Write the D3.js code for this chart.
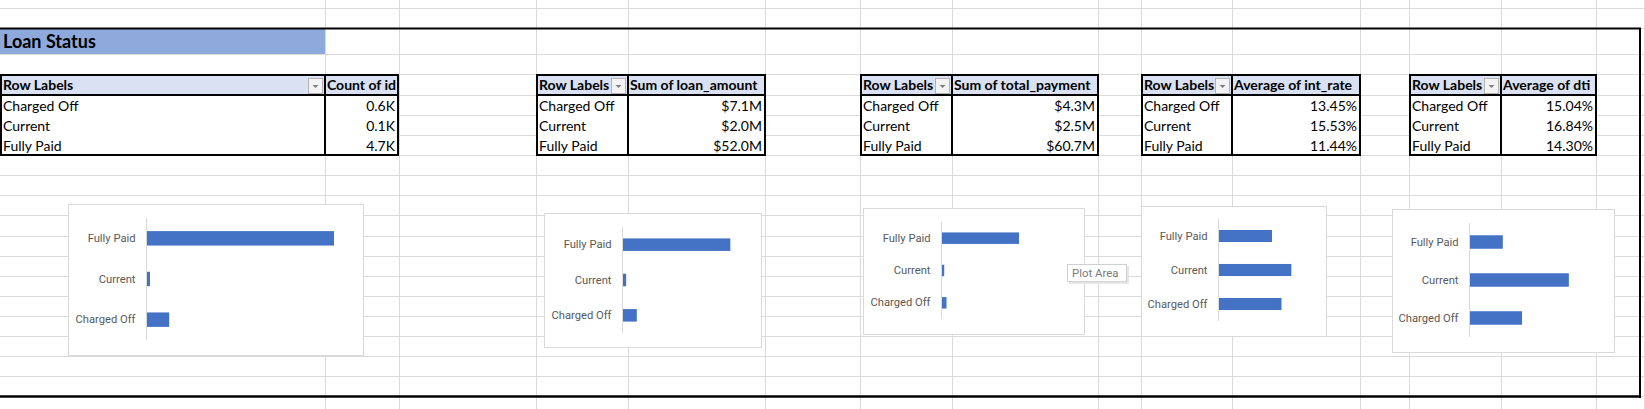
<!DOCTYPE html>
<html><head><meta charset="utf-8">
<script src="https://cdn.jsdelivr.net/npm/d3@7"></script>
<style>html,body{margin:0;padding:0;background:#fff;overflow:hidden}</style>
</head><body><svg id="c" width="1645" height="409"></svg>
<script>
// ---------- data ----------
const categories = ["Charged Off", "Current", "Fully Paid"];
const countOfId = [580, 100, 4700];
const sumLoanAmount = [7.1, 2.0, 52.0];      // $ millions
const sumTotalPayment = [4.3, 2.5, 60.7];    // $ millions
const avgIntRate = [13.45, 15.53, 11.44];    // %
const avgDti = [15.04, 16.84, 14.30];        // %
const valueHeaders = ["Count of id", "Sum of loan_amount", "Sum of total_payment", "Average of int_rate", "Average of dti"];
const rowLabelHeader = "Row Labels";
const sheetTitle = "Loan Status";
const tooltipText = "Plot Area";

// ---------- formats ----------
const fmtK = v => (v / 1000).toFixed(1) + "K";
const fmtM = v => "$" + v.toFixed(1) + "M";
const fmtP = v => v.toFixed(2) + "%";

const series = [
  {values: countOfId, fmt: fmtK, domain: [0, 5000]},
  {values: sumLoanAmount, fmt: fmtM, domain: [0, 60]},
  {values: sumTotalPayment, fmt: fmtM, domain: [0, 70]},
  {values: avgIntRate, fmt: fmtP, domain: [0, 18]},
  {values: avgDti, fmt: fmtP, domain: [13, 17.5]}
];

// ---------- layout ----------
const W = 1645, H = 409;
const colLines = [325, 399, 536, 628, 765, 860, 952, 1098, 1141, 1232, 1360, 1409, 1501, 1596, 1644];
const rowLines = [8, 28, 54, 74, 95, 115, 135, 155, 175, 195, 215, 236, 256, 276, 296, 316, 336, 356, 376, 396];
const tables = [
  {x0: 0, xm: 325, x1: 398},
  {x0: 536, xm: 628, x1: 765},
  {x0: 860, xm: 952, x1: 1098},
  {x0: 1141, xm: 1232, x1: 1360},
  {x0: 1409, xm: 1501, x1: 1596}
];
const tTop = 74, tHead = 95, tRow = 20;
const charts = [
  {box: [68, 204, 363, 355], ax: 146, pr: 346, pt: 218, pb: 340},
  {box: [544, 213, 761, 347], ax: 622, pr: 747, pt: 227, pb: 333},
  {box: [863, 208, 1084, 334], ax: 941, pr: 1031, pt: 222, pb: 319},
  {box: [1141, 206, 1326, 336], ax: 1218, pr: 1303, pt: 219, pb: 321},
  {box: [1392, 209, 1614, 352], ax: 1469, pr: 1586, pt: 223, pb: 337}
];

const svg = d3.select("#c");
svg.append("rect").attr("width", W).attr("height", H).attr("fill", "#fff");

// grid
const grid = svg.append("g").attr("stroke", "#dadada").attr("stroke-width", 1).attr("shape-rendering", "crispEdges");
grid.selectAll("line.v").data(colLines).join("line").attr("class", "v")
  .attr("x1", d => d + 0.5).attr("x2", d => d + 0.5).attr("y1", 0).attr("y2", H);
grid.selectAll("line.h").data(rowLines).join("line").attr("class", "h")
  .attr("x1", 0).attr("x2", W).attr("y1", d => d + 0.5).attr("y2", d => d + 0.5);

// title cell
svg.append("rect").attr("x", 0).attr("y", 28).attr("width", 325).attr("height", 26).attr("fill", "#8ea9db");
svg.append("text").attr("x", 3).attr("y", 48).text(sheetTitle)
  .attr("font-family", "Lato, sans-serif").attr("font-weight", "bold").attr("font-size", 18).attr("fill", "#000");

const cellFont = "Lato, 'Open Sans', sans-serif";
const cellSize = 14;

// pivot tables
tables.forEach((t, i) => {
  const g = svg.append("g");
  const s = series[i];
  const tBottom = tHead + tRow * categories.length;
  g.append("rect").attr("x", t.x0).attr("y", tTop).attr("width", t.x1 - t.x0).attr("height", tBottom - tTop).attr("fill", "#fff");
  g.append("rect").attr("x", t.x0).attr("y", tTop).attr("width", t.x1 - t.x0).attr("height", tHead - tTop).attr("fill", "#d9e1f2");
  // header texts
  g.append("text").attr("x", t.x0 + 3).attr("y", tHead - 5).text(rowLabelHeader)
    .attr("font-family", cellFont).attr("font-weight", "bold").attr("font-size", cellSize);
  g.append("text").attr("x", t.xm + 2).attr("y", tHead - 5).text(valueHeaders[i])
    .attr("font-family", cellFont).attr("font-weight", "bold").attr("font-size", cellSize);
  // dropdown button
  const bx = t.xm - 17, by = tTop + 4;
  g.append("rect").attr("x", bx + 0.5).attr("y", by + 0.5).attr("width", 14).attr("height", 15)
    .attr("fill", "#f3f3f3").attr("stroke", "#b4b4b4");
  g.append("path").attr("d", `M${bx + 4.5},${by + 7} L${bx + 10.5},${by + 7} L${bx + 7.5},${by + 10} Z`).attr("fill", "#7f7f7f");
  // rows
  categories.forEach((c, j) => {
    const yb = tHead + tRow * (j + 1) - 4;
    g.append("text").attr("x", t.x0 + 3).attr("y", yb).text(c)
      .attr("font-family", cellFont).attr("font-size", cellSize);
    g.append("text").attr("x", t.x1 - 3).attr("y", yb).attr("text-anchor", "end").text(s.fmt(s.values[j]))
      .attr("font-family", cellFont).attr("font-size", cellSize);
  });
  // borders
  const b = g.append("g").attr("stroke", "#000").attr("stroke-width", 2).attr("fill", "none");
  b.append("rect").attr("x", t.x0 + 1).attr("y", tTop + 1).attr("width", t.x1 - t.x0 - 1).attr("height", tBottom - tTop - 1);
  b.append("line").attr("x1", t.x0).attr("x2", t.x1).attr("y1", tHead).attr("y2", tHead);
  b.append("line").attr("x1", t.xm).attr("x2", t.xm).attr("y1", tTop).attr("y2", tBottom);
});

// bar charts
const order = categories.slice().reverse(); // Excel draws first category at the bottom
charts.forEach((c, i) => {
  const s = series[i];
  const g = svg.append("g");
  const [bx0, by0, bx1, by1] = c.box;
  g.append("rect").attr("x", bx0 + 0.5).attr("y", by0 + 0.5).attr("width", bx1 - bx0).attr("height", by1 - by0)
    .attr("fill", "#fff").attr("stroke", "#d9d9d9");
  const x = d3.scaleLinear().domain(s.domain).range([c.ax, c.pr]);
  const y = d3.scaleBand().domain(order).range([c.pt, c.pb]).paddingInner(0.645).paddingOuter(0.3225);
  const data = categories.map((k, j) => ({k, v: s.values[j]}));
  g.selectAll("rect.bar").data(data).join("rect").attr("class", "bar")
    .attr("x", x(s.domain[0])).attr("y", d => y(d.k))
    .attr("width", d => x(d.v) - x(s.domain[0])).attr("height", y.bandwidth())
    .attr("fill", "#4472c4");
  const axis = d3.axisLeft(y).tickSize(0).tickPadding(11);
  const ag = g.append("g").attr("transform", `translate(${c.ax + 0.5},0)`).call(axis);
  ag.select(".domain").attr("stroke", "#d9d9d9").attr("d", `M0,${c.pt}V${c.pb}`);
  ag.selectAll("text").attr("fill", "#595959").attr("font-family", "Roboto, sans-serif").attr("font-size", 11.2);
});

// "Plot Area" tooltip
const tt = svg.append("g");
tt.append("rect").attr("x", 1069).attr("y", 266).attr("width", 60).attr("height", 18).attr("fill", "#e6e6e6");
tt.append("rect").attr("x", 1067.5).attr("y", 264.5).attr("width", 59).attr("height", 17).attr("fill", "#fff").attr("stroke", "#d0d0d0");
tt.append("text").attr("x", 1072).attr("y", 277).text(tooltipText)
  .attr("fill", "#7a7a7a").attr("font-family", "Roboto, sans-serif").attr("font-size", 11.4);

// outer black border
const ob = svg.append("g").attr("stroke", "#000").attr("fill", "none");
ob.append("line").attr("x1", 0).attr("x2", 1641).attr("y1", 28.5).attr("y2", 28.5).attr("stroke-width", 2);
ob.append("line").attr("x1", 1640).attr("x2", 1640).attr("y1", 28).attr("y2", 398).attr("stroke-width", 2);
ob.append("line").attr("x1", 0).attr("x2", 1641).attr("y1", 396.5).attr("y2", 396.5).attr("stroke-width", 2.5);
</script></body></html>
